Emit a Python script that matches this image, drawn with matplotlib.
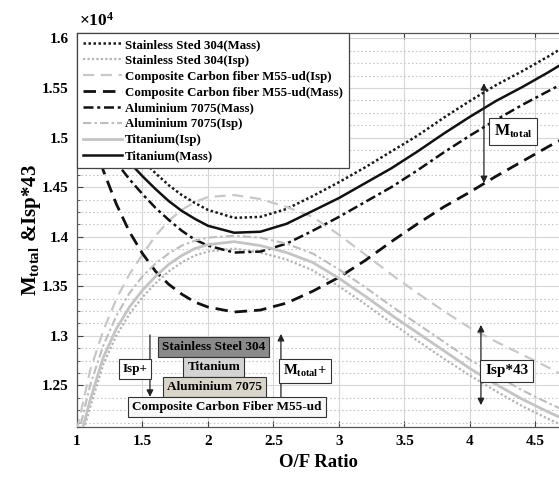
import matplotlib
matplotlib.use("Agg")
import matplotlib.pyplot as plt
from matplotlib.ticker import MultipleLocator, FuncFormatter
import numpy as np

# ---------------- data (values in units of 1e4) ----------------
of_ratio = [1.0, 1.1, 1.2, 1.3, 1.4, 1.5, 1.6, 1.7, 1.8, 1.9, 2.0, 2.2, 2.4,
            2.6, 2.8, 3.0, 3.2, 3.4, 3.6, 3.8, 4.0, 4.2, 4.4, 4.6, 4.7]

ss_mass = [1.600, 1.565, 1.534, 1.510, 1.492, 1.477, 1.464, 1.452, 1.442, 1.434,
           1.427, 1.419, 1.420, 1.428, 1.441, 1.455, 1.470, 1.486, 1.502, 1.520,
           1.537, 1.553, 1.567, 1.582, 1.590]
ss_isp = [1.180, 1.228, 1.271, 1.300, 1.322, 1.339, 1.353, 1.365, 1.374, 1.381,
          1.385, 1.388, 1.384, 1.377, 1.366, 1.350, 1.332, 1.313, 1.295, 1.277,
          1.260, 1.244, 1.229, 1.216, 1.210]
cc_isp = [1.205, 1.265, 1.305, 1.337, 1.362, 1.382, 1.401, 1.416, 1.427, 1.435,
          1.440, 1.442, 1.438, 1.430, 1.420, 1.402, 1.382, 1.362, 1.343, 1.325,
          1.308, 1.294, 1.281, 1.268, 1.261]
cc_mass = [1.570, 1.515, 1.467, 1.433, 1.405, 1.383, 1.365, 1.352, 1.342, 1.334,
           1.329, 1.324, 1.326, 1.333, 1.345, 1.359, 1.376, 1.395, 1.413, 1.430,
           1.445, 1.461, 1.476, 1.491, 1.498]
al_mass = [1.560, 1.526, 1.497, 1.475, 1.458, 1.443, 1.429, 1.417, 1.406, 1.397,
           1.391, 1.384, 1.385, 1.393, 1.406, 1.420, 1.435, 1.450, 1.467, 1.485,
           1.502, 1.518, 1.533, 1.547, 1.554]
al_isp = [1.195, 1.250, 1.290, 1.320, 1.343, 1.360, 1.373, 1.383, 1.391, 1.396,
          1.399, 1.401, 1.399, 1.393, 1.383, 1.367, 1.349, 1.330, 1.312, 1.294,
          1.276, 1.260, 1.245, 1.232, 1.226]
ti_isp = [1.185, 1.235, 1.278, 1.307, 1.329, 1.346, 1.360, 1.372, 1.381, 1.388,
          1.392, 1.395, 1.391, 1.384, 1.374, 1.358, 1.340, 1.321, 1.303, 1.285,
          1.267, 1.251, 1.236, 1.223, 1.217]
ti_mass = [1.580, 1.545, 1.515, 1.492, 1.475, 1.461, 1.448, 1.436, 1.426, 1.418,
           1.411, 1.404, 1.405, 1.413, 1.426, 1.439, 1.454, 1.469, 1.486, 1.504,
           1.521, 1.537, 1.551, 1.566, 1.574]

labels = ["Stainless Sted 304(Mass)", "Stainless Sted 304(Isp)",
          "Composite Carbon fiber M55-ud(Isp)", "Composite Carbon fiber M55-ud(Mass)",
          "Aluminium 7075(Mass)", "Aluminium 7075(Isp)",
          "Titanium(Isp)", "Titanium(Mass)"]
series = [ss_mass, ss_isp, cc_isp, cc_mass, al_mass, al_isp, ti_isp, ti_mass]
SCALE = 1e4

# ---------------- styles ----------------
styles = [
    dict(color="#1a1a1a", lw=1.8, ls=(0, (1, 1))),
    dict(color="#b4b4b4", lw=1.6, ls=(0, (1, 1))),
    dict(color="#c8c8c8", lw=1.6, ls=(0, (5, 3))),
    dict(color="#111111", lw=2.0, ls=(0, (4.5, 2.5))),
    dict(color="#111111", lw=1.8, ls=(0, (4, 1.5, 1.2, 1.5))),
    dict(color="#bdbdbd", lw=1.5, ls=(0, (4, 1.5, 1.2, 1.5))),
    dict(color="#c4c4c4", lw=2.0, ls="-"),
    dict(color="#111111", lw=1.8, ls="-"),
]

plt.rcParams["font.family"] = ["Liberation Serif", "DejaVu Serif"]
plt.rcParams["font.weight"] = "bold"
plt.rcParams["mathtext.fontset"] = "custom"
plt.rcParams["mathtext.rm"] = "Liberation Serif:bold"
plt.rcParams["mathtext.bf"] = "Liberation Serif:bold"
plt.rcParams["mathtext.it"] = "Liberation Serif:italic:bold"

fig = plt.figure(figsize=(5.59, 4.78), dpi=100)
ax = fig.add_axes([77 / 559, 51 / 478, 1 - 77 / 559, (427 - 33) / 478])

x = np.array(of_ratio)
for vals, lab, st in zip(series, labels, styles):
    ax.plot(x, np.array(vals) * SCALE, label=lab, color=st["color"],
            lw=st["lw"], linestyle=st["ls"], zorder=3)

ax.set_xlim(1.0, 4.68)
ax.set_ylim(12080, 16055)
ax.xaxis.set_major_locator(MultipleLocator(0.5))
ax.yaxis.set_major_locator(MultipleLocator(500))
ax.yaxis.set_minor_locator(MultipleLocator(125))
ax.yaxis.set_major_formatter(FuncFormatter(lambda v, p: f"{v / SCALE:g}"))
ax.xaxis.set_major_formatter(FuncFormatter(lambda v, p: f"{v:g}"))

ax.grid(which="major", color="#d6d6d6", lw=0.8, ls="-", zorder=0)
ax.grid(which="minor", axis="y", color="#c8c8c8", lw=0.8, ls=(0, (1.5, 2)), zorder=0)
ax.set_axisbelow(True)

ax.tick_params(which="both", direction="in", top=True, right=False,
               color="#444444", labelsize=11, pad=6)
ax.tick_params(which="major", length=4)
ax.tick_params(which="minor", length=2)
for lab in ax.get_xticklabels() + ax.get_yticklabels():
    lab.set_fontweight("bold")
for s in ["left", "bottom", "top"]:
    ax.spines[s].set_color("#555555")
    ax.spines[s].set_linewidth(0.9)
ax.spines["right"].set_visible(False)

ax.set_xlabel("O/F Ratio", fontsize=13.5, fontweight="bold", labelpad=4)
ax.set_ylabel(r"$\mathbf{M}_{\mathbf{total}}$ &Isp*43", fontsize=15,
              fontweight="bold", labelpad=-1)
ax.text(0.005, 1.008, r"$\times\mathbf{10^{4}}$", transform=ax.transAxes,
        fontsize=12.5, ha="left", va="bottom")

leg = ax.legend(loc="upper left", bbox_to_anchor=(0, 1), borderaxespad=0,
                fontsize=9.3, handlelength=3.0, handletextpad=0.25,
                labelspacing=0.3, borderpad=0.45, fancybox=False,
                framealpha=1, edgecolor="#444444")
leg.get_frame().set_linewidth(0.9)
leg.set_zorder(5)
for t in leg.get_texts():
    t.set_fontweight("bold")


def box(xc, yc, s, fc, size=9.5, pad=0.3):
    ax.text(xc, yc, s, ha="center", va="center", fontsize=size,
            fontweight="bold", zorder=6,
            bbox=dict(boxstyle=f"square,pad={pad}", fc=fc, ec="#333333", lw=0.8))


def arrow(x0, y0, x1, y1, style="-|>"):
    ax.annotate("", xy=(x1, y1), xytext=(x0, y0), zorder=6,
                arrowprops=dict(arrowstyle=style, color="#222222", lw=0.9,
                                mutation_scale=10, shrinkA=0, shrinkB=0))


# material stack
arrow(1.557, 13009, 1.557, 12384)
arrow(2.557, 12384, 2.557, 13019)
box(2.04, 12887, "Stainless Steel 304", "#8a8a8a")
box(2.045, 12684, "Titanium", "#d4d4d4")
box(2.05, 12483, "Aluminium 7075", "#d9d5ca")
box(2.145, 12280, "Composite Carbon Fiber M55-ud", "#f7f7f7")
box(1.443, 12662, "Isp+", "#ffffff", size=9.5, pad=0.3)
box(2.74, 12645, r"M$_{\mathbf{total}}$+", "#ffffff", size=10.5, pad=0.3)

# right annotations
arrow(4.107, 14540, 4.107, 15550, style="<|-|>")
box(4.33, 15065, r"M$_{\mathbf{total}}$", "#ffffff", size=11.5, pad=0.3)
arrow(4.084, 12300, 4.084, 13110, style="<|-|>")
box(4.28, 12645, "Isp*43", "#ffffff", size=11, pad=0.3)

fig.savefig("out.png", dpi=100)
